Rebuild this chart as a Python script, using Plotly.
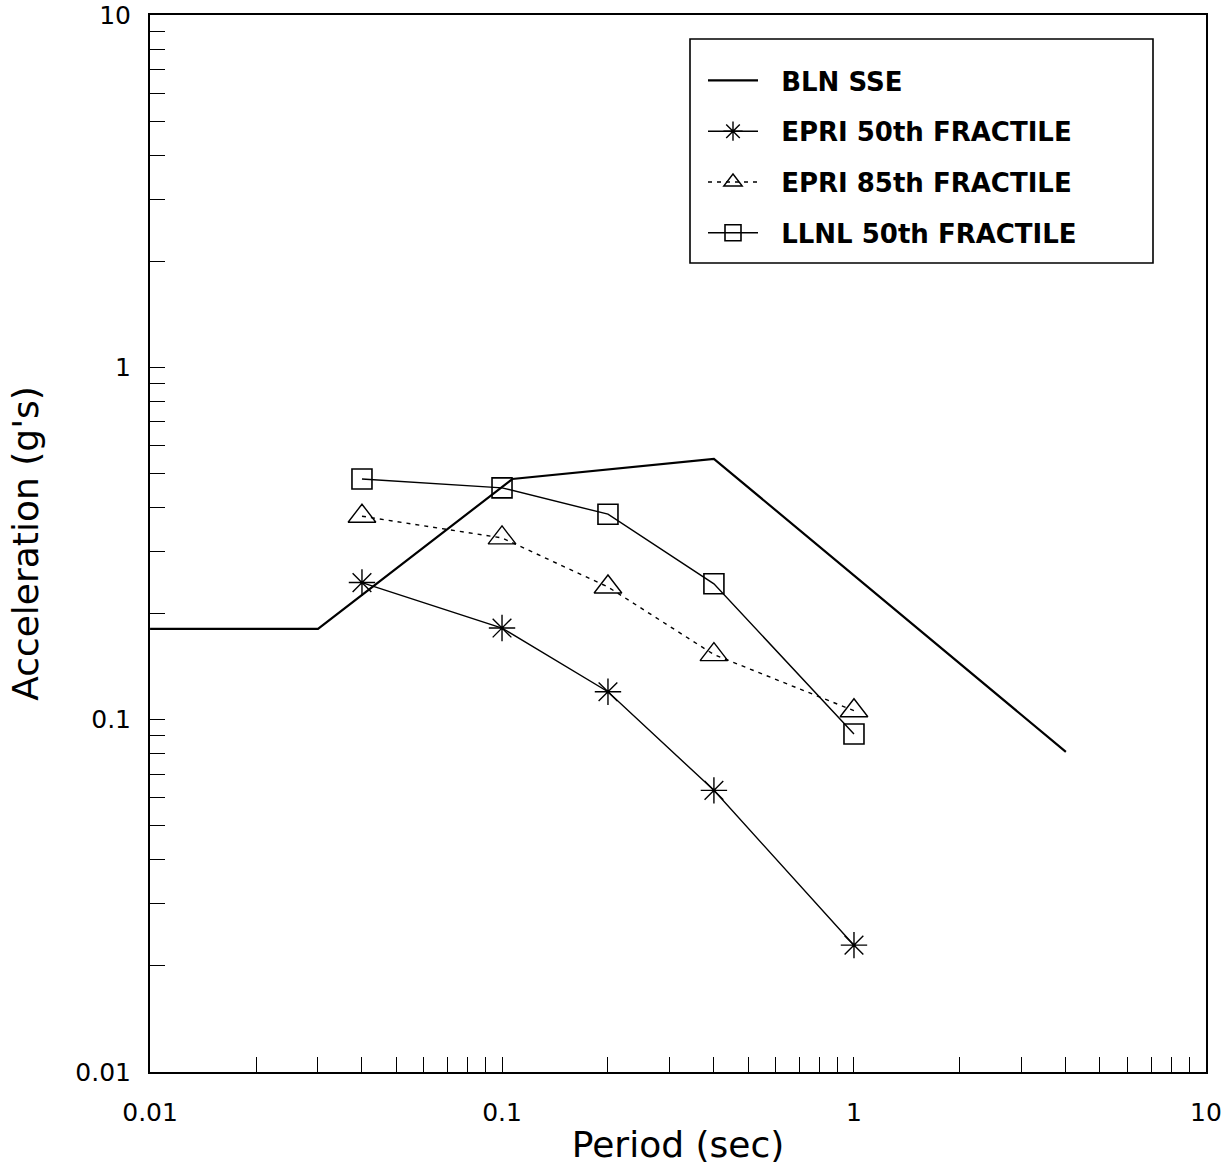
import plotly.graph_objects as go

# ---- data ----
bln_period = [0.01, 0.03, 0.107, 0.4, 4.0]
bln_accel = [0.181, 0.181, 0.482, 0.55, 0.081]

epri_period = [0.04, 0.1, 0.2, 0.4, 1.0]
epri50_accel = [0.245, 0.182, 0.120, 0.063, 0.0229]
epri85_accel = [0.378, 0.328, 0.238, 0.153, 0.106]

llnl_period = [0.04, 0.1, 0.2, 0.4, 1.0]
llnl50_accel = [0.482, 0.455, 0.383, 0.243, 0.091]

series_names = ["BLN SSE", "EPRI 50th FRACTILE", "EPRI 85th FRACTILE", "LLNL 50th FRACTILE"]

major_ticks = [0.01, 0.1, 1, 10]
major_text = ["0.01", "0.1", "1", "10"]
minor_digits = [2, 3, 4, 5, 6, 7, 8, 9]
minor_ticks = [d * m for d in [0.01, 0.1, 1] for m in minor_digits]

FONT = "DejaVu Sans"
BLACK = "black"
GAP = "\u2002\u2009"  # spacing between legend sample and its label

fig = go.Figure()

fig.add_trace(go.Scatter(
    x=bln_period, y=bln_accel, mode="lines", name=GAP + series_names[0],
    legendgroup="a", line=dict(color=BLACK, width=2.2)))

fig.add_trace(go.Scatter(
    x=epri_period, y=epri50_accel, mode="lines+markers", name=GAP + series_names[1],
    legendgroup="b", line=dict(color=BLACK, width=1.4),
    marker=dict(symbol="asterisk-open", size=22, color=BLACK,
                line=dict(color=BLACK, width=1.4))))

fig.add_trace(go.Scatter(
    x=epri_period, y=epri85_accel, mode="lines+markers", name=GAP + series_names[2],
    legendgroup="c", line=dict(color=BLACK, width=1.4, dash="4px,5px"),
    marker=dict(symbol="triangle-up-open", size=24, color=BLACK,
                line=dict(color=BLACK, width=1.4))))

fig.add_trace(go.Scatter(
    x=llnl_period, y=llnl50_accel, mode="lines+markers", name=GAP + series_names[3],
    legendgroup="d", line=dict(color=BLACK, width=1.4),
    marker=dict(symbol="square-open", size=20, color=BLACK,
                line=dict(color=BLACK, width=1.6))))

axis_common = dict(
    type="log", range=[-2.0002, 1.0002],
    showgrid=False, zeroline=False,
    showline=True, linecolor=BLACK, linewidth=2, mirror=True,
    ticks="inside", ticklen=15, tickwidth=1.4, tickcolor=BLACK,
    tickmode="array", tickvals=major_ticks, ticktext=major_text,
    tickfont=dict(family=FONT, size=25, color=BLACK),
    ticklabeloverflow="allow",
    minor=dict(ticks="inside", ticklen=15, tickwidth=1.2, tickcolor=BLACK,
               tickmode="array", tickvals=minor_ticks, showgrid=False),
)

fig.update_xaxes(**axis_common, ticklabelstandoff=17,
                 title=dict(text="Period (sec)", font=dict(family=FONT, size=36, color=BLACK),
                            standoff=6))
fig.update_yaxes(**axis_common, ticklabelstandoff=12,
                 title=dict(text="Acceleration (g's)", font=dict(family=FONT, size=36, color=BLACK),
                            standoff=26))

# plot area in page pixels: left 150, right 1206, top 15, bottom 1072
PW, PH = 1056, 1057

# legend frame
fig.add_shape(type="rect", xref="paper", yref="paper",
              x0=(690 - 150) / PW, x1=(1153 - 150) / PW,
              y0=(1072 - 263) / PH, y1=(1072 - 39) / PH,
              line=dict(color=BLACK, width=1.6), fillcolor="rgba(0,0,0,0)")

fig.update_layout(
    width=1229, height=1167,
    margin=dict(l=150, r=23, t=15, b=95, autoexpand=False),
    paper_bgcolor="white", plot_bgcolor="white",
    font=dict(family=FONT, color=BLACK),
    showlegend=True,
    legend=dict(
        x=(703 - 150) / PW, y=(1072 - 57) / PH, xanchor="left", yanchor="top",
        bgcolor="rgba(0,0,0,0)", borderwidth=0,
        font=dict(family=FONT, size=26, color=BLACK, weight="bold"),
        itemwidth=50, tracegroupgap=14, traceorder="grouped",
    ),
)

fig.write_html(
    "out.html",
    config={"displayModeBar": False},
    post_script="document.body.style.margin='0';document.body.style.overflow='hidden';",
)
